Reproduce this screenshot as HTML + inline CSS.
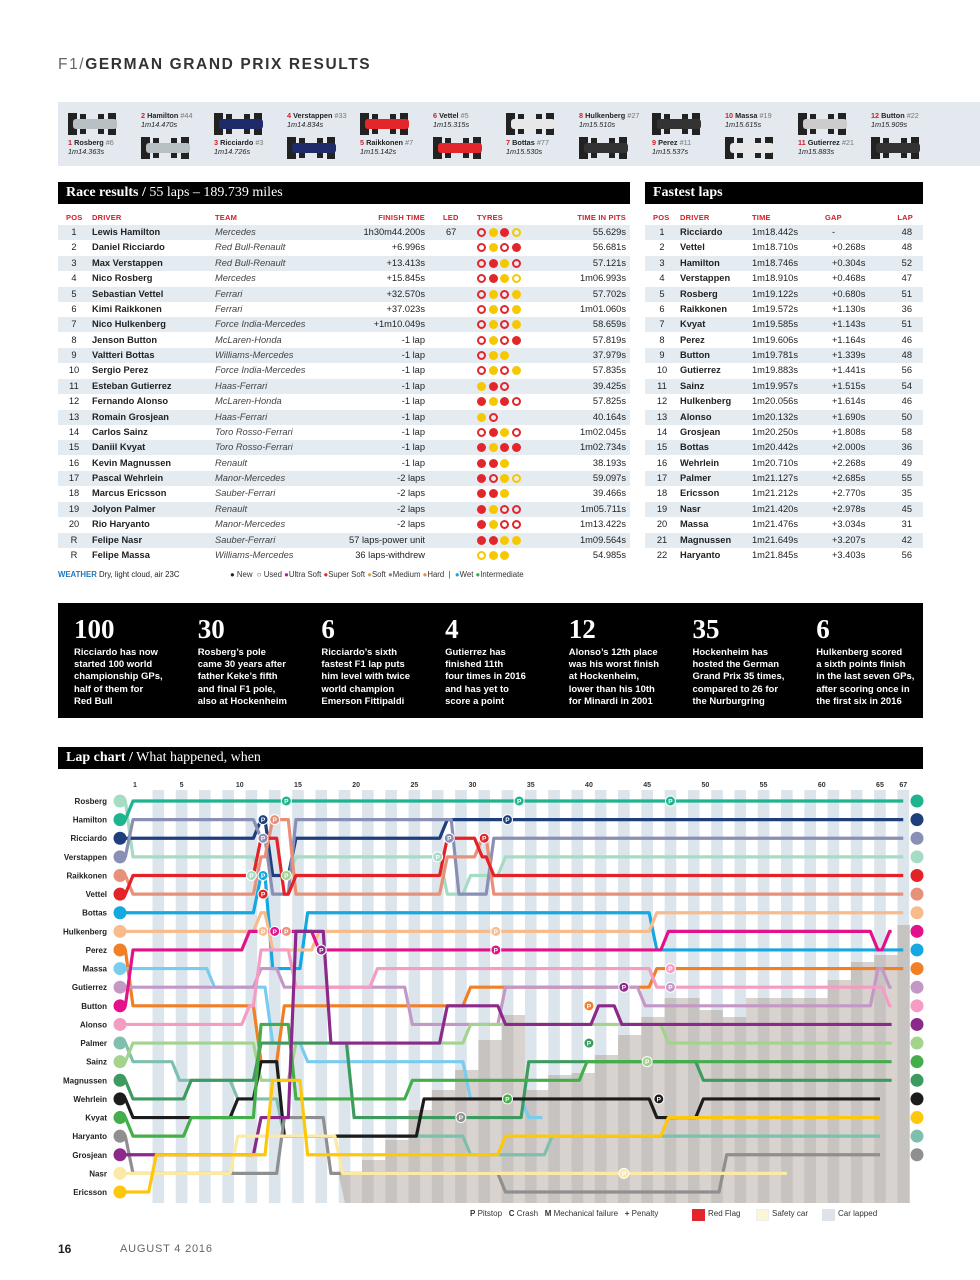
<!DOCTYPE html>
<html><head><meta charset="utf-8">
<style>
*{margin:0;padding:0;box-sizing:border-box}
body{width:980px;height:1280px;background:#fff;position:relative;overflow:hidden;font-family:"Liberation Sans",sans-serif;color:#222}
.a{position:absolute;white-space:nowrap}
.bar{position:absolute;background:#000;color:#fff;font-family:"Liberation Serif",serif;font-size:14px;padding:3px 8px;height:22px}
.bar b{font-weight:bold}
.hd{position:absolute;color:#d0202a;font-weight:bold;font-size:7.5px;letter-spacing:.2px}
.t{position:absolute;font-size:9.3px;white-space:nowrap}
.stat{position:absolute;color:#fff;width:120px}
.stat .n{font-family:"Liberation Serif",serif;font-weight:bold;font-size:27px;line-height:28px}
.stat .d{font-size:9.5px;line-height:12.2px;font-weight:bold;margin-top:4px}
</style></head><body>
<div class="a" style="left:58px;top:56px;font-size:15.5px;letter-spacing:1.6px;color:#333"><span style="color:#666">F1/</span><b>GERMAN GRAND PRIX RESULTS</b></div>
<div class="a" style="left:58px;top:102px;width:922px;height:64px;background:#e3e9ef"></div>
<div id="grid"></div>
<div class="bar" style="left:58px;top:182px;width:572px"><b>Race results /</b> 55 laps – 189.739 miles</div>
<div class="bar" style="left:645px;top:182px;width:278px"><b>Fastest laps</b></div>
<div id="tables"></div>
<div class="a" style="left:58px;top:570px;font-size:7.8px"><b style="color:#2377b8">WEATHER</b> Dry, light cloud, air 23C</div>
<div class="a" style="left:230px;top:570px;font-size:7.8px;color:#333">
<span style="color:#222">●</span> New &nbsp;<span>○</span> Used <span style="color:#b4169a">●</span>Ultra Soft <span style="color:#e3262b">●</span>Super Soft <span style="color:#cfa94e">●</span>Soft <span style="color:#888">●</span>Medium <span style="color:#f08a3c">●</span>Hard &nbsp;| &nbsp;<span style="color:#13a7e0">●</span>Wet <span style="color:#2eb34a">●</span>Intermediate</div>
<div class="a" style="left:58px;top:603px;width:865px;height:115px;background:#000"></div>
<div id="stats"></div>
<div class="bar" style="left:58px;top:747px;width:865px"><b>Lap chart /</b> What happened, when</div>
<svg class="a" style="left:0;top:0" width="980" height="1280" id="chart"></svg>
<div class="a" style="left:470px;top:1209px;font-size:8px;color:#333"><b>P</b> Pitstop &nbsp; <b>C</b> Crash &nbsp; <b>M</b> Mechanical failure &nbsp; <b>+</b> Penalty</div>
<div class="a" style="left:692px;top:1209px;width:13px;height:12px;background:#e3262b"></div>
<div class="a" style="left:708px;top:1209px;font-size:8px;color:#333">Red Flag</div>
<div class="a" style="left:756px;top:1209px;width:13px;height:12px;background:#fbf7d6;border:1px solid #eee"></div>
<div class="a" style="left:772px;top:1209px;font-size:8px;color:#333">Safety car</div>
<div class="a" style="left:822px;top:1209px;width:13px;height:12px;background:#dde3e8"></div>
<div class="a" style="left:838px;top:1209px;font-size:8px;color:#333">Car lapped</div>
<div class="a" style="left:58px;top:1242px;font-size:12px;font-weight:bold">16</div>
<div class="a" style="left:120px;top:1243px;font-size:11px;color:#666;letter-spacing:.8px">AUGUST 4 2016</div>
<script>
(function(){
var G=[["Rosberg","#6","1m14.363s","#b9c0c4"],["Hamilton","#44","1m14.470s","#b9c0c4"],["Ricciardo","#3","1m14.726s","#1e2a6a"],["Verstappen","#33","1m14.834s","#1e2a6a"],["Raikkonen","#7","1m15.142s","#e3262b"],["Vettel","#5","1m15.315s","#e3262b"],["Bottas","#77","1m15.530s","#e8e8e8"],["Hulkenberg","#27","1m15.510s","#333"],["Perez","#11","1m15.537s","#333"],["Massa","#19","1m15.615s","#e8e8e8"],["Gutierrez","#21","1m15.883s","#ccc"],["Button","#22","1m15.909s","#333"]];
var h="";
G.forEach(function(g,i){var x=68+73*i,tp=i%2==0;var ly=tp?138:111,cy=tp?113:137;
h+='<div class="a" style="left:'+x+'px;top:'+cy+'px;width:50px;height:22px"><div style="position:absolute;left:0;top:0;width:9px;height:22px;background:#222"></div><div style="position:absolute;left:40px;top:0;width:8px;height:22px;background:#222"></div><div style="position:absolute;left:5px;top:6px;width:44px;height:10px;background:'+g[3]+';border-radius:3px"></div><div style="position:absolute;left:12px;top:1px;width:6px;height:5px;background:#222"></div><div style="position:absolute;left:12px;top:16px;width:6px;height:5px;background:#222"></div><div style="position:absolute;left:30px;top:1px;width:6px;height:5px;background:#222"></div><div style="position:absolute;left:30px;top:16px;width:6px;height:5px;background:#222"></div></div>';
h+='<div class="a" style="left:'+x+'px;top:'+ly+'px;font-size:7.3px;line-height:9px"><b><span style="color:#d0202a">'+(i+1)+'</span> '+g[0]+'</b> <span style="color:#777">'+g[1]+'</span><br><i>'+g[2]+'</i></div>';});
document.getElementById("grid").innerHTML=h;
var R=[["1","Lewis Hamilton","Mercedes","1h30m44.200s","67","ro yf rf yo","55.629s"],["2","Daniel Ricciardo","Red Bull-Renault","+6.996s","","ro yf ro rf","56.681s"],["3","Max Verstappen","Red Bull-Renault","+13.413s","","ro rf yf ro","57.121s"],["4","Nico Rosberg","Mercedes","+15.845s","","ro rf yf yo","1m06.993s"],["5","Sebastian Vettel","Ferrari","+32.570s","","ro yf ro yf","57.702s"],["6","Kimi Raikkonen","Ferrari","+37.023s","","ro yf ro yf","1m01.060s"],["7","Nico Hulkenberg","Force India-Mercedes","+1m10.049s","","ro yf ro yf","58.659s"],["8","Jenson Button","McLaren-Honda","-1 lap","","ro yf ro rf","57.819s"],["9","Valtteri Bottas","Williams-Mercedes","-1 lap","","ro yf yf","37.979s"],["10","Sergio Perez","Force India-Mercedes","-1 lap","","ro yf ro yf","57.835s"],["11","Esteban Gutierrez","Haas-Ferrari","-1 lap","","yf rf ro","39.425s"],["12","Fernando Alonso","McLaren-Honda","-1 lap","","rf yf rf ro","57.825s"],["13","Romain Grosjean","Haas-Ferrari","-1 lap","","yf ro","40.164s"],["14","Carlos Sainz","Toro Rosso-Ferrari","-1 lap","","ro rf yf ro","1m02.045s"],["15","Daniil Kvyat","Toro Rosso-Ferrari","-1 lap","","rf yf rf rf","1m02.734s"],["16","Kevin Magnussen","Renault","-1 lap","","rf rf yf","38.193s"],["17","Pascal Wehrlein","Manor-Mercedes","-2 laps","","rf ro yf yo","59.097s"],["18","Marcus Ericsson","Sauber-Ferrari","-2 laps","","rf rf yf","39.466s"],["19","Jolyon Palmer","Renault","-2 laps","","rf yf ro ro","1m05.711s"],["20","Rio Haryanto","Manor-Mercedes","-2 laps","","rf yf ro ro","1m13.422s"],["R","Felipe Nasr","Sauber-Ferrari","57 laps-power unit","","rf rf yf yf","1m09.564s"],["R","Felipe Massa","Williams-Mercedes","36 laps-withdrew","","yo yf yf","54.985s"]];
var F=[["Ricciardo","1m18.442s","-","48"],["Vettel","1m18.710s","+0.268s","48"],["Hamilton","1m18.746s","+0.304s","52"],["Verstappen","1m18.910s","+0.468s","47"],["Rosberg","1m19.122s","+0.680s","51"],["Raikkonen","1m19.572s","+1.130s","36"],["Kvyat","1m19.585s","+1.143s","51"],["Perez","1m19.606s","+1.164s","46"],["Button","1m19.781s","+1.339s","48"],["Gutierrez","1m19.883s","+1.441s","56"],["Sainz","1m19.957s","+1.515s","54"],["Hulkenberg","1m20.056s","+1.614s","46"],["Alonso","1m20.132s","+1.690s","50"],["Grosjean","1m20.250s","+1.808s","58"],["Bottas","1m20.442s","+2.000s","36"],["Wehrlein","1m20.710s","+2.268s","49"],["Palmer","1m21.127s","+2.685s","55"],["Ericsson","1m21.212s","+2.770s","35"],["Nasr","1m21.420s","+2.978s","45"],["Massa","1m21.476s","+3.034s","31"],["Magnussen","1m21.649s","+3.207s","42"],["Haryanto","1m21.845s","+3.403s","56"]];
h='';
[["POS",66],["DRIVER",92],["TEAM",215],["LED",443],["TYRES",477]].forEach(function(c){h+='<div class="hd" style="left:'+c[1]+'px;top:213px">'+c[0]+'</div>'});
h+='<div class="hd" style="right:555px;top:213px">FINISH TIME</div><div class="hd" style="right:354px;top:213px">TIME IN PITS</div>';
[["POS",653],["DRIVER",680],["TIME",752],["GAP",825]].forEach(function(c){h+='<div class="hd" style="left:'+c[1]+'px;top:213px">'+c[0]+'</div>'});
h+='<div class="hd" style="right:67px;top:213px">LAP</div>';
R.forEach(function(r,i){var y=225+i*15.38;
if(i%2==0){h+='<div class="a" style="left:58px;top:'+y+'px;width:572px;height:15px;background:#e4ebf1"></div><div class="a" style="left:645px;top:'+y+'px;width:278px;height:15px;background:#e4ebf1"></div>';}
var ty=y+2;
h+='<div class="t" style="left:64px;width:20px;text-align:center;top:'+ty+'px">'+r[0]+'</div><div class="t" style="left:92px;top:'+ty+'px;font-weight:bold">'+r[1]+'</div><div class="t" style="left:215px;top:'+ty+'px;font-style:italic;color:#444">'+r[2]+'</div><div class="t" style="right:555px;top:'+ty+'px">'+r[3]+'</div><div class="t" style="left:446px;top:'+ty+'px">'+r[4]+'</div><div class="t" style="right:354px;top:'+ty+'px">'+r[6]+'</div>';
r[5].split(" ").forEach(function(s,k){var c=s[0]=="r"?"#e3262b":"#f5c800";h+='<div class="a" style="left:'+(477+k*11.5)+'px;top:'+(y+3)+'px;width:9px;height:9px;border-radius:50%;'+(s[1]=="f"?'background:'+c:'border:2px solid '+c)+'"></div>'});
var f=F[i];
h+='<div class="t" style="left:652px;width:20px;text-align:center;top:'+ty+'px">'+(i+1)+'</div><div class="t" style="left:680px;top:'+ty+'px;font-weight:bold">'+f[0]+'</div><div class="t" style="left:752px;top:'+ty+'px">'+f[1]+'</div><div class="t" style="left:832px;top:'+ty+'px">'+f[2]+'</div><div class="t" style="right:68px;top:'+ty+'px">'+f[3]+'</div>';});
document.getElementById("tables").innerHTML=h;
var S=[["100","Ricciardo has now<br>started 100 world<br>championship GPs,<br>half of them for<br>Red Bull"],["30","Rosberg’s pole<br>came 30 years after<br>father Keke’s fifth<br>and final F1 pole,<br>also at Hockenheim"],["6","Ricciardo’s sixth<br>fastest F1 lap puts<br>him level with twice<br>world champion<br>Emerson Fittipaldi"],["4","Gutierrez has<br>finished 11th<br>four times in 2016<br>and has yet to<br>score a point"],["12","Alonso’s 12th place<br>was his worst finish<br>at Hockenheim,<br>lower than his 10th<br>for Minardi in 2001"],["35","Hockenheim has<br>hosted the German<br>Grand Prix 35 times,<br>compared to 26 for<br>the Nurburgring"],["6","Hulkenberg scored<br>a sixth points finish<br>in the last seven GPs,<br>after scoring once in<br>the first six in 2016"]];
h='';S.forEach(function(s,i){h+='<div class="stat" style="left:'+(74+123.7*i)+'px;top:615px"><div class="n">'+s[0]+'</div><div class="d">'+s[1]+'</div></div>'});
document.getElementById("stats").innerHTML=h;
function X(l){return 135+(l-1)*11.64}function Y(r){return 801+r*18.62}
var s='',T0=790,B0=1203;
for(var l=3;l<=67;l+=2)s+='<rect x="'+(X(l)-5.8)+'" y="'+T0+'" width="11.64" height="'+(B0-T0)+'" fill="#dce5ec"/>';
var poly='345,'+B0;var st=[[19,1175],[21,1160],[23,1140],[25,1110],[27,1090],[29,1070],[31,1040],[33,1015],[35,1090],[37,1075],[39,1073],[41,1055],[43,1035],[45,1017],[47,998],[50,1010],[52,1017],[54,998],[61,980],[63,962],[65,955],[67,925]];
st.forEach(function(p,i){var x0=X(p[0])-5.8,x1=i<st.length-1?X(st[i+1][0])-5.8:910;poly+=' '+x0+','+p[1]+' '+x1+','+p[1]});poly+=' 910,'+B0;
s+='<clipPath id="cp"><polygon points="'+poly+'"/></clipPath><polygon points="'+poly+'" fill="#d9d3cf"/><g clip-path="url(#cp)">';
for(var l=3;l<=67;l+=2)s+='<rect x="'+(X(l)-5.8)+'" y="'+T0+'" width="11.64" height="'+(B0-T0)+'" fill="#c7c3c1"/>';
s+='</g>';
[1,5,10,15,20,25,30,35,40,45,50,55,60,65,67].forEach(function(l){s+='<text x="'+X(l)+'" y="787" font-size="7" font-weight="bold" text-anchor="middle" fill="#333" font-family="Liberation Sans">'+l+'</text>'});
var D=[["Rosberg","#a6dcc4",0,[[1,3],[12,4],[15,3],[28,5],[30,4],[33,3]],67,3],
["Hamilton","#1db48e",1,[[1,0]],67,0],
["Ricciardo","#1e3f7c",2,[[1,2],[12,1],[13,4],[15,2],[28,1]],67,1],
["Verstappen","#8a8fb6",3,[[1,1],[12,2],[13,5],[15,1],[29,5],[32,2]],67,2],
["Raikkonen","#e8917a",4,[[1,5],[12,3],[13,1],[15,5],[28,3],[31,2],[32,5]],67,5],
["Vettel","#e42328",5,[[1,4],[12,2],[14,5],[15,4],[28,2],[31,3],[32,4]],67,4],
["Bottas","#16a8e1",6,[[12,4],[13,9],[16,6],[33,6],[46,8]],67,8],
["Hulkenberg","#f8bb8c",7,[[12,6],[13,8],[17,7],[46,6]],67,6],
["Perez","#f07f26",8,[[1,11],[12,14],[14,11],[30,10],[46,9]],67,9],
["Massa","#79ccef",9,[[8,10],[13,13],[16,14],[30,16],[35,17]],36,-1],
["Gutierrez","#c498c6",10,[[12,9],[14,10],[25,12],[33,10],[45,11],[65,9],[66,10]],66,10],
["Button","#e2128b",11,[[1,8],[11,7],[17,8],[31,8],[47,7],[62,7],[65,8],[66,7]],66,7],
["Alonso","#f49cc2",12,[[1,12],[11,11],[12,8],[15,10],[22,9],[46,10],[65,10],[66,11]],66,11],
["Palmer","#7fbfae",13,[[1,14],[5,15],[10,16],[14,18],[30,19],[37,18]],65,18],
["Sainz","#a3d38c",14,[[1,13],[12,15],[15,13],[30,12],[47,13]],66,13],
["Magnussen","#3e9b60",15,[[1,16],[6,15],[12,13],[20,17],[35,14],[50,15]],66,15],
["Wehrlein","#1c1c1c",16,[[1,17],[10,16],[12,14],[14,18],[26,16],[46,17],[50,16]],65,16],
["Kvyat","#43ae4a",17,[[1,18],[6,17],[12,12],[15,16],[25,15],[40,14]],66,14],
["Haryanto","#8f8f8f",18,[[1,20],[14,17],[18,20],[33,21],[52,19]],65,19],
["Grosjean","#8c2a8c",19,[[1,19],[12,17],[15,7],[18,13],[28,11],[33,12],[41,11],[43,12]],66,12],
["Nasr","#fde9a6",20,[[1,20],[10,18],[19,20],[34,20]],57,-1],
["Ericsson","#fdc80c",21,[[1,21],[3,19],[13,15],[16,19],[26,19],[33,18],[47,17]],65,17]];
D.forEach(function(d){var r=d[2],p=[[120,Y(r)]];d[3].forEach(function(w){p.push([X(w[0]-1)+2,Y(r)]);r=w[1];p.push([X(w[0])-2,Y(r)])});p.push([X(d[4]),Y(r)]);
s+='<polyline points="'+p.map(function(q){return q.join(",")}).join(" ")+'" fill="none" stroke="'+d[1]+'" stroke-width="3.2" stroke-linejoin="round"/>';});
D.forEach(function(d){s+='<circle cx="120" cy="'+Y(d[2])+'" r="6.5" fill="'+d[1]+'"/><text x="107" y="'+(Y(d[2])+3)+'" font-size="8" font-weight="bold" text-anchor="end" fill="#222" font-family="Liberation Sans">'+d[0]+'</text>';
if(d[5]>=0)s+='<circle cx="917" cy="'+Y(d[5])+'" r="6.5" fill="'+d[1]+'"/>';});
var P=[[1,14,0],[2,12,1],[3,12,2],[4,13,1],[5,12,5],[6,12,4],[0,11,4],[14,14,4],[7,12,7],[4,14,7],[11,13,7],[19,17,8],[0,27,3],[3,28,2],[2,33,1],[5,31,2],[1,34,0],[1,47,0],[11,32,8],[7,32,7],[8,40,11],[12,47,9],[19,43,10],[10,47,10],[17,33,16],[16,46,16],[18,29,17],[20,43,20],[15,40,13],[14,45,14]];
P.forEach(function(q){var c=D[q[0]][1];s+='<circle cx="'+X(q[1])+'" cy="'+Y(q[2])+'" r="5" fill="'+c+'" stroke="#fff" stroke-width="1"/><text x="'+X(q[1])+'" y="'+(Y(q[2])+2.5)+'" font-size="6.5" font-weight="bold" text-anchor="middle" fill="#fff" font-family="Liberation Sans">P</text>'});
document.getElementById("chart").innerHTML=s;
})();
</script>
</body></html>
